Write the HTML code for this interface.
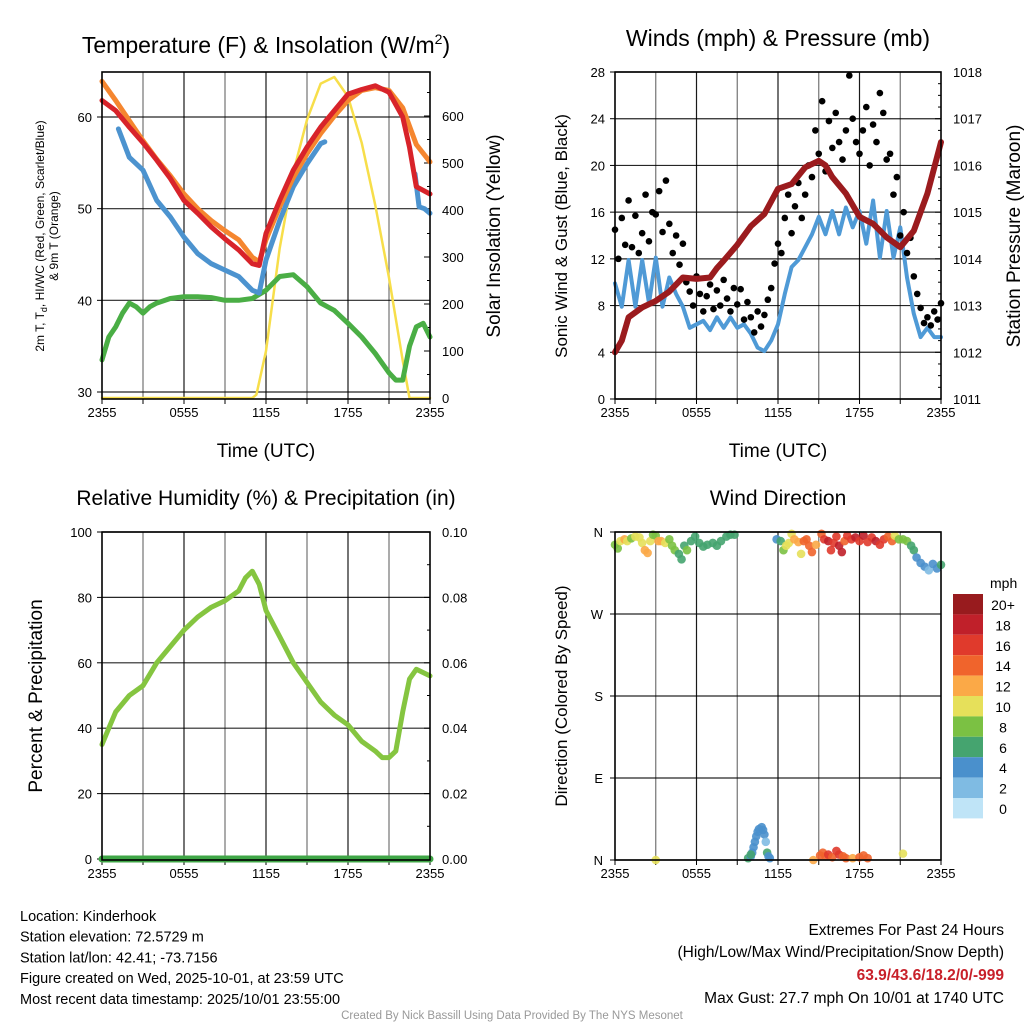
<!DOCTYPE html>
<html><head><meta charset="utf-8">
<style>
body{margin:0;background:#fff;width:1024px;height:1024px;overflow:hidden;font-family:"Liberation Sans",sans-serif;}
svg text{font-family:"Liberation Sans",sans-serif;}
</style></head>
<body>
<svg id="s" width="1024" height="1024" xmlns="http://www.w3.org/2000/svg"></svg>
<script>
// ---- Data ----
const tempHours=[0,1,2,3,4,5,6,7,8,9,10,11,11.5,12,13,14,15,16,17,18,19,20,21,22,22.5,23,24];
const tempVals=[61.8,60.7,58.9,57.2,55.3,53.3,50.9,49.5,48,46.7,45.5,44,43.8,47.3,50.9,54.2,56.7,58.9,60.7,62.5,63,63.4,62.7,60,56.7,52.4,51.6];
const t9Hours=[0,1,2,3,4,5,6,7,8,9,10,11,11.5,12,13,14,15,16,17,18,19,20,21,22,23,24];
const t9Vals=[63.9,61.8,59.6,57.4,55.4,53.6,51.6,50,48.7,47.6,46.6,44.7,44.2,46.6,50.2,53.4,56,58.2,60.1,61.8,62.9,63.2,62.9,61,57,55.1];
const hiHoursA=[1.2,2,3,4,5,6,7,8,9,10,11,11.5,12,13,14,15,16,16.3];
const hiValsA=[58.7,55.6,54.2,50.9,49.1,46.9,45.1,44,43.3,42.6,41.1,40.8,44.4,48.7,52.4,54.9,57.1,57.3];
const hiHoursB=[22.9,23.2,23.6,24];
const hiValsB=[53.8,50.2,50,49.5];
const tdHours=[0,0.5,1,1.5,2,2.5,3,3.5,4,5,6,7,8,9,10,11,12,13,14,15,16,17,18,19,20,21,21.5,22,22.5,23,23.5,24];
const tdVals=[33.5,36,37.1,38.6,39.7,39.3,38.6,39.3,39.7,40.2,40.4,40.4,40.3,40,40,40.2,41.1,42.6,42.8,41.5,39.7,38.9,37.5,36,34.2,32.1,31.3,31.3,35,37.1,37.5,36];
const solHours=[0,11,11.3,12,13,14,15,16,17,18,19,20,21,22,22.5,24];
const solVals=[0,0,7,100,319,480,592,669,683,641,543,410,256,80,0,0];
const presHours=[0,0.5,1,2,3,4,5,6,7,7.5,8,9,10,11,12,13,14,15,15.5,16,17,18,19,20,21,22,23,24];
const presVals=[1012,1012.25,1012.75,1012.96,1013.1,1013.3,1013.6,1013.57,1013.6,1013.8,1013.96,1014.3,1014.7,1014.96,1015.5,1015.6,1015.96,1016.1,1016,1015.75,1015.4,1014.9,1014.75,1014.46,1014.25,1014.6,1015.4,1016.5];
const windVals=[9.9,7.9,11.9,7.9,11.9,8.2,12.1,7.9,10.4,9,7.9,6.1,6.4,6.7,5.9,7,6.1,7,6.1,6.4,5.6,4.4,4.1,5,6.4,9,11.3,11.9,13,14.1,15.6,14.1,16.1,14.1,16.4,14.7,16.1,13.3,17,12.1,16.1,12.1,14.7,10.4,7.3,5.3,6.1,5.3,5.3];
const gustVals=[14.5,12,15.5,13.2,17,13,15.7,12.5,14.2,17.5,13.5,16,15.8,17.8,14.3,18.7,15,12.5,14,11.5,13.3,10,9.2,8,10.5,9,7.5,8.8,9.8,7.7,9.3,8,10.2,8.6,7.5,9.5,8.1,9.4,6.8,8.3,7,5.7,7.5,6.2,7.2,8.5,9.5,11.6,13.3,12.5,15.5,17.5,14.2,16.5,18.5,15.5,17.5,20,19,23,21,25.5,19.5,23.8,21.5,24.5,22,20.5,23,27.7,24,22,21,23,25,20,23.5,22,26.2,24.5,20.5,21,17.5,19,14,16,12.5,13.8,10.5,9,7.8,6.5,7,6.3,7.5,6.8,8.2];
const rhHours=[0,0.5,1,2,3,4,5,6,7,8,9,10,10.5,11,11.5,12,13,14,15,16,17,18,19,20,20.5,21,21.5,22,22.5,23,24];
const rhVals=[35,40,45,50,53,60,65,70,74,77,79,82,86,88,84,76,68,60,54,48,44,41,36,33,31,31,33,45,55,58,56];
const dirHours=[0,0.2,0.4,0.7,0.9,1.2,1.5,1.8,2,2.2,2.4,2.6,2.8,3,3.2,3.4,3.7,4,4.2,4.4,4.7,4.9,5.1,5.3,5.6,5.9,6.2,6.5,6.8,7.2,7.5,7.8,8.2,8.5,8.8,11.9,12.2,12.4,12.6,12.8,13,13.2,13.5,13.7,13.9,14.1,14.3,14.5,14.8,15.2,15.4,15.7,15.9,16.1,16.3,16.5,16.7,16.9,17.1,17.4,17.7,18,18.3,18.6,18.9,19.2,19.5,19.8,20.1,20.4,20.6,20.9,21.2,21.5,21.8,22,22.2,22.5,22.8,23.1,23.4,23.7,24,
3,9.8,10,10.1,10.2,10.3,10.4,10.5,10.6,10.8,10.9,11,11.1,11.2,11.3,11.4,10,14.6,15.1,15.3,15.5,15.7,16,16.3,16.5,16.8,17,17.5,18,18.3,18.6,21.2];
const dirVals=[346,342,350,352,350,353,355,354,348,340,337,350,357,356,350,350,348,352,345,340,336,330,345,340,350,355,348,344,346,348,345,350,355,357,357,352,350,340,345,348,358,352,349,336,350,352,345,338,346,358,352,350,340,348,355,345,338,350,356,352,354,350,356,349,354,350,346,352,355,350,356,352,352,350,345,340,332,326,322,318,325,320,324,
0,2,4,8,14,20,26,31,34,36,33,28,20,8,4,2,6,0,5,8,4,6,3,10,6,4,2,2,3,5,2,7];
const dirSpeeds=[9,8,10,12,10,9,10,10,10,12,12,10,8,9,12,12,10,9,8,8,7,6,6,8,6,6,7,6,6,6,6,6,6,6,6,4,7,9,10,11,10,12,12,10,14,14,14,15,12,15,16,18,17,16,16,18,19,14,16,17,18,16,18,17,16,18,17,16,15,14,10,8,9,8,6,7,5,4,4,3,4,5,6,
10,6,4,4,4,4,4,4,4,4,4,4,3,6,4,4,7,12,14,15,14,16,15,17,16,15,14,13,14,14,15,10];
const cbLabels=["20+","18","16","14","12","10","8","6","4","2","0"];
const cbColors=["#981b1e","#c0202a","#e03a2c","#f0642c","#fba947","#e6e05a","#7bc143","#45a46f","#4a90cc","#7fbbe3","#bfe4f7"];

// ---- helpers ----
const S=document.getElementById('s');const NS="http://www.w3.org/2000/svg";
function mk(tag,attrs,parent){const e=document.createElementNS(NS,tag);for(const k in attrs)e.setAttribute(k,attrs[k]);(parent||S).appendChild(e);return e;}
function txt(x,y,s,size,anchor,extra){const t=mk('text',Object.assign({x:x,y:y,'font-size':size,'text-anchor':anchor||'middle',fill:'#000'},extra||{}));t.textContent=s;return t;}
function scale(d0,d1,r0,r1){return v=>r0+(v-d0)*(r1-r0)/(d1-d0);}
const xTicks=["2355","0555","1155","1755","2355"];
function frame(L,T,R,B,yl,yTicksL,fmtL){
  const xs=scale(0,24,L,R);
  for(let h=3;h<24;h+=3){const g=mk('line',{x1:xs(h),x2:xs(h),y1:T,y2:B,stroke:'#000','stroke-width':1.2,'stroke-opacity':(h%6==0?0.9:0.55)});
  }
  yTicksL.forEach(v=>{const y=yl(v);const g=mk('line',{x1:L,x2:R,y1:y,y2:y,stroke:'#000','stroke-width':1.2,'stroke-opacity':0.85});
  
  mk('line',{x1:L-5,x2:L,y1:y,y2:y,stroke:'#000'});
  const t=txt(L-10,y+5,fmtL(v),13,'end');});
  xTicks.forEach((s,i)=>{const x=xs(i*6);mk('line',{x1:x,x2:x,y1:B,y2:B+5,stroke:'#000'});
  const t=txt(x,B+18,s,13);});
  for(let h=3;h<24;h+=6){mk('line',{x1:xs(h),x2:xs(h),y1:B,y2:B+5,stroke:'#000'});}
  return xs;
}
function box(L,T,R,B){const r=mk('rect',{x:L,y:T,width:R-L,height:B-T,fill:'none',stroke:'#000','stroke-width':1.6});}
function line(xs,ys,hours,vals,color,w,name){const d=hours.map((h,i)=>(i?'L':'M')+xs(h).toFixed(1)+' '+ys(vals[i]).toFixed(1)).join(' ');
  const p=mk('path',{d:d,fill:'none',stroke:color,'stroke-width':w,'stroke-linejoin':'round','stroke-linecap':'round'});
  return p;}
function rightTicks(R,ys,ticks,fmt,minor){ticks.forEach(v=>{const y=ys(v);mk('line',{x1:R-6,x2:R,y1:y,y2:y,stroke:'#000'});
  const t=txt(R+12,y+5,fmt(v),13,'start');});
  minor.forEach(v=>{const y=ys(v);mk('line',{x1:R-3,x2:R,y1:y,y2:y,stroke:'#000'});});}
function rotText(x,y,s,size,name){const t=txt(x,y,s,size,'middle',{transform:`rotate(-90 ${x} ${y})`});return t;}

// ---- Panel 1 ----
(function(){const L=102,T=72,R=430,B=399;
 const yl=scale(30,60,392,117);const yr=scale(0,600,398,116);
 const xs=frame(L,T,R,B,yl,[30,40,50,60],v=>v);
 rightTicks(R,yr,[0,100,200,300,400,500,600],v=>v,[50,150,250,350,450,550,650]);
 line(xs,yr,solHours,solVals,'#f7de4a',2.5,'solar-insolation-line');
 line(xs,yl,tdHours,tdVals,'#4aae45',5,'dewpoint-line');
 line(xs,yl,hiHoursA,hiValsA,'#4c93cf',5,'heat-index-windchill-line');
 line(xs,yl,hiHoursB,hiValsB,'#4c93cf',5,'heat-index-windchill-line-end');
 line(xs,yl,t9Hours,t9Vals,'#f5862f',5,'temperature-9m-line');
 line(xs,yl,tempHours,tempVals,'#d8232a',5,'temperature-2m-line');
 box(L,T,R,B);
 const t=mk('text',{x:266,y:53,'font-size':23,'text-anchor':'middle'});t.innerHTML='Temperature (F) &amp; Insolation (W/m<tspan font-size="14" dy="-9">2</tspan><tspan dy="9">)</tspan>';
 
 const xl=txt(266,457,'Time (UTC)',19);
 const a=mk('text',{x:44,y:236,'font-size':12,'text-anchor':'middle',transform:'rotate(-90 44 236)'});a.innerHTML='2m T, T<tspan font-size="9" dy="3">d</tspan><tspan dy="-3">, HI/WC (Red, Green, Scarlet/Blue)</tspan>';
 
 rotText(58,236,'& 9m T (Orange)',12,'left-y-axis-title-line2');
 rotText(500,236,'Solar Insolation (Yellow)',19,'right-y-axis-title');
})();

// ---- Panel 2 ----
(function(){const L=615,T=72,R=941,B=399;
 const yl=scale(0,28,B,T);const yr=scale(1011,1018,B,T);
 const xs=frame(L,T,R,B,yl,[0,4,8,12,16,20,24,28],v=>v);
 const pt=[1011,1012,1013,1014,1015,1016,1017,1018];
 rightTicks(R,yr,pt,v=>v,[1011.25,1011.5,1011.75,1012.25,1012.5,1012.75,1013.25,1013.5,1013.75,1014.25,1014.5,1014.75,1015.25,1015.5,1015.75,1016.25,1016.5,1016.75,1017.25,1017.5,1017.75]);
 const wh=windVals.map((v,i)=>i*0.5);
 line(xs,yl,wh,windVals,'#4f9ad6',4,'sonic-wind-line');
 gustVals.forEach((v,i)=>{const c=mk('circle',{cx:xs(i*0.25),cy:yl(v),r:3.3,fill:'#000'});
  });
 line(xs,yr,presHours,presVals,'#9b1b1e',6,'station-pressure-line');
 box(L,T,R,B);
 const t=txt(778,46,'Winds (mph) & Pressure (mb)',23);
 const xl=txt(778,457,'Time (UTC)',19);
 rotText(567,236,'Sonic Wind & Gust (Blue, Black)',17,'left-y-axis-title');
 rotText(1020,236,'Station Pressure (Maroon)',19,'right-y-axis-title');
})();

// ---- Panel 3 ----
(function(){const L=102,T=532,R=430,B=860;
 const yl=scale(0,100,859,532);const yr=scale(0,0.1,859,532);
 const xs=frame(L,T,R,B,yl,[0,20,40,60,80,100],v=>v);
 rightTicks(R,yr,[0,0.02,0.04,0.06,0.08,0.1],v=>v.toFixed(2),[0.01,0.03,0.05,0.07,0.09]);
 line(xs,yl,rhHours,rhVals,'#85c540',5,'relative-humidity-line');
 line(xs,yr,[0,24],[0,0],'#3fa646',7,'precipitation-line');
 box(L,T,R,B);
 const t=txt(266,505,'Relative Humidity (%) & Precipitation (in)',21);
 rotText(42,696,'Percent & Precipitation',19,'left-y-axis-title');
})();

// ---- Panel 4 ----
(function(){const L=615,T=532,R=941,B=860;
 const yl=scale(0,360,B,T);
 const xs=frame(L,T,R,B,yl,[],v=>v);
 [[0,'N'],[90,'E'],[180,'S'],[270,'W'],[360,'N']].forEach(([v,s])=>{const y=yl(v);
  const g=mk('line',{x1:L,x2:R,y1:y,y2:y,stroke:'#000','stroke-width':1.2,'stroke-opacity':0.85});
  mk('line',{x1:L-5,x2:L,y1:y,y2:y,stroke:'#000'});
  const t=txt(L-12,y+5,s,13,'end');});
 function col(s){let i=Math.min(10,Math.floor(s/2));return cbColors[10-i];}
 dirVals.forEach((d,i)=>{const c=mk('circle',{cx:xs(dirHours[i]),cy:yl(d),r:4.3,fill:col(dirSpeeds[i]),'fill-opacity':0.9});
  });
 box(L,T,R,B);
 const t=txt(778,505,'Wind Direction',21);
 rotText(567,696,'Direction (Colored By Speed)',17,'left-y-axis-title');
 const u=txt(990,588,'mph',14,'start');
 cbColors.forEach((c,i)=>{const y=594+i*20.4;const r=mk('rect',{x:953,y:y,width:30,height:20.4,fill:c});
  
  const t=txt(1003,y+16,cbLabels[i],14,'middle');});
})();

// ---- Footer ----
const foot=["Location: Kinderhook","Station elevation: 72.5729 m","Station lat/lon: 42.41; -73.7156","Figure created on Wed, 2025-10-01, at 23:59 UTC","Most recent data timestamp: 2025/10/01 23:55:00"];
foot.forEach((s,i)=>{const t=txt(20,921+i*20.7,s,14.5,'start');});
[["Extremes For Past 24 Hours",935,{}],["(High/Low/Max Wind/Precipitation/Snow Depth)",957,{}],["63.9/43.6/18.2/0/-999",980,{fill:'#c8202a','font-weight':'bold'}],["Max Gust: 27.7 mph On 10/01 at 1740 UTC",1003,{}]].forEach(([s,y,e])=>{
 const t=txt(1004,y,s,15.5,'end',e);});
const cr=txt(512,1019,'Created By Nick Bassill Using Data Provided By The NYS Mesonet',11.5,'middle',{fill:'#999'});

</script>
</body></html>
